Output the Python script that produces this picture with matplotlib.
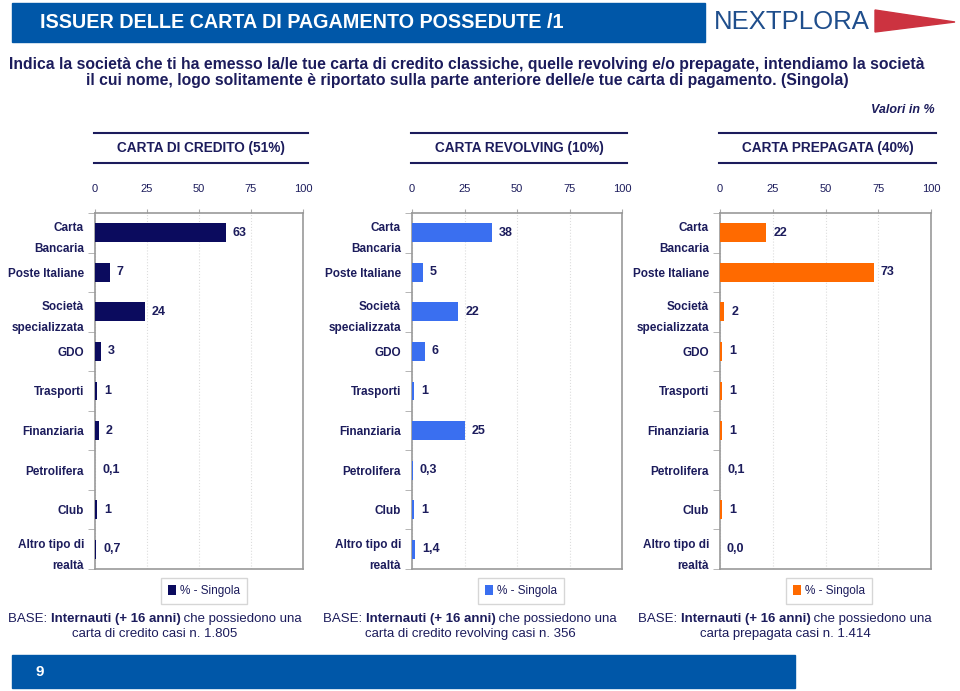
import matplotlib
matplotlib.use("Agg")
import matplotlib.pyplot as plt
from matplotlib.patches import Rectangle, Polygon
import numpy as np

# --- data ---
categories = ["Carta\nBancaria", "Poste Italiane", "Società\nspecializzata", "GDO",
              "Trasporti", "Finanziaria", "Petrolifera", "Club", "Altro tipo di\nrealtà"]
credito = [63, 7, 24, 3, 1, 2, 0.1, 1, 0.7]
revolving = [38, 5, 22, 6, 1, 25, 0.3, 1, 1.4]
prepagata = [22, 73, 2, 1, 1, 1, 0.1, 1, 0.0]
credito_lbl = ["63", "7", "24", "3", "1", "2", "0,1", "1", "0,7"]
revolving_lbl = ["38", "5", "22", "6", "1", "25", "0,3", "1", "1,4"]
prepagata_lbl = ["22", "73", "2", "1", "1", "1", "0,1", "1", "0,0"]
panel_titles = ["CARTA DI CREDITO (51%)", "CARTA REVOLVING (10%)", "CARTA PREPAGATA (40%)"]
base_notes = ["carta di credito casi n. 1.805",
              "carta di credito revolving casi n. 356",
              "carta prepagata casi n. 1.414"]
xticks = [0, 25, 50, 75, 100]

W, H = 960, 691
NAVY = "#1c1c5c"
BLUE_BAR = "#0057a8"
FONT = ["Liberation Sans", "DejaVu Sans"]

plt.rcParams["font.family"] = FONT

fig = plt.figure(figsize=(W / 100, H / 100), dpi=100)
fig.patch.set_facecolor("white")


def fx(x):
    return x / W


def fy(y):
    return 1 - y / H


# header bar
fig.patches.append(Rectangle((fx(12), fy(42)), fx(705 - 12), (42 - 3) / H,
                             transform=fig.transFigure, color=BLUE_BAR, zorder=0))
fig.text(fx(40), fy(22), "ISSUER DELLE CARTA DI PAGAMENTO POSSEDUTE /1", color="white",
         fontsize=14.2, fontweight="bold", va="center", ha="left")
# logo
fig.text(fx(714), fy(22), "NEXTPLORA", color="#1f4e8c", fontsize=18.5,
         va="center", ha="left")
fig.patches.append(Polygon([(fx(875), fy(10)), (fx(955), fy(22)), (fx(875), fy(32))],
                           closed=True, transform=fig.transFigure, color="#cc3340"))

# question text
fig.text(fx(467), fy(65), "Indica la società che ti ha emesso la/le tue carta di credito classiche, "
         "quelle revolving e/o prepagate, intendiamo la società", color=NAVY, fontsize=11.3,
         fontweight="bold", ha="center", va="center")
fig.text(fx(467), fy(81), "il cui nome, logo solitamente è riportato sulla parte anteriore "
         "delle/e tue carta di pagamento. (Singola)", color=NAVY, fontsize=11.3,
         fontweight="bold", ha="center", va="center")
fig.text(fx(935), fy(110), "Valori in %", color=NAVY, fontsize=9, fontstyle="italic",
         fontweight="bold", ha="right", va="center")

panels = [
    (credito, credito_lbl, "#0b0b5e", 95, 303, 204, 155),
    (revolving, revolving_lbl, "#3a6ff0", 412, 622, 521, 470),
    (prepagata, prepagata_lbl, "#ff6a00", 720, 931, 829, 785),
]

y_top, y_bot = 213, 569
y = np.arange(len(categories))
renderer = fig.canvas.get_renderer()

for i, (vals, lbls, col, x0, x1, lcx, bcx) in enumerate(panels):
    ax = fig.add_axes([fx(x0), fy(y_bot), fx(x1 - x0), (y_bot - y_top) / H])
    bars = ax.barh(y, vals, height=0.48, color=col, zorder=3)
    ax.set_xlim(0, 100)
    ax.set_ylim(len(categories) - 0.5, -0.5)
    ax.set_xticks(xticks)
    ax.xaxis.tick_top()
    ax.tick_params(axis="x", length=3, color="#aaaaaa", labelsize=8, labelcolor=NAVY, pad=11)
    ax.set_yticks(y)
    ax.set_yticklabels(categories, fontsize=8.5, fontweight="bold", color=NAVY,
                       linespacing=2.0)
    ax.tick_params(axis="y", length=0, pad=8)
    ax.set_yticks(np.arange(len(categories) + 1) - 0.5, minor=True)
    ax.tick_params(axis="y", which="minor", length=5, color="#aaaaaa")
    for sp in ax.spines.values():
        sp.set_color("#999999")
        sp.set_linewidth(1.2)
    ax.grid(axis="x", linestyle=":", color="#dddddd", linewidth=0.8, zorder=0)
    for yy, v, t in zip(y, vals, lbls):
        ax.annotate(t, (v, yy), xytext=(5, 0), textcoords="offset points",
                    fontsize=9, fontweight="bold", color=NAVY, va="center", ha="left")

    # panel title with rules
    fig.lines.append(plt.Line2D([fx(x0 - 1), fx(x1 + 5)], [fy(133), fy(133)],
                                transform=fig.transFigure, color=NAVY, lw=1.5))
    fig.lines.append(plt.Line2D([fx(x0 - 1), fx(x1 + 5)], [fy(163), fy(163)],
                                transform=fig.transFigure, color=NAVY, lw=1.5))
    fig.text(fx((x0 + x1 + 4) / 2), fy(148), panel_titles[i], color=NAVY, fontsize=9.8,
             fontweight="bold", ha="center", va="center")

    # legend
    ax.legend([bars], ["% - Singola"], loc="center",
              bbox_to_anchor=(fx(lcx), fy(591)), bbox_transform=fig.transFigure,
              fancybox=False, edgecolor="#cccccc", handlelength=0.7,
              handleheight=1.0, handletextpad=0.4, borderpad=0.55,
              prop={"size": 8.5}, labelcolor=NAVY)

    # base note: "BASE: " + bold part + rest, centred as one line
    parts = [("BASE: ", "normal"), ("Internauti (+ 16 anni)", "bold"),
             (" che possiedono una", "normal")]
    txts = [fig.text(0, fy(619), s, color=NAVY, fontsize=9.5, fontweight=w,
                     ha="left", va="center") for s, w in parts]
    widths = [t.get_window_extent(renderer).width for t in txts]
    xs = bcx - sum(widths) / 2
    for t, wd in zip(txts, widths):
        t.set_x(fx(xs))
        xs += wd
    fig.text(fx(bcx), fy(634), base_notes[i], color=NAVY, fontsize=9.5,
             ha="center", va="center")

# footer bar
fig.patches.append(Rectangle((fx(12), fy(688)), fx(795 - 12), (688 - 655) / H,
                             transform=fig.transFigure, color=BLUE_BAR, zorder=0))
fig.text(fx(35), fy(672), "9", color="white", fontsize=11, fontweight="bold",
         ha="left", va="center")

fig.savefig("out.png", dpi=100)
